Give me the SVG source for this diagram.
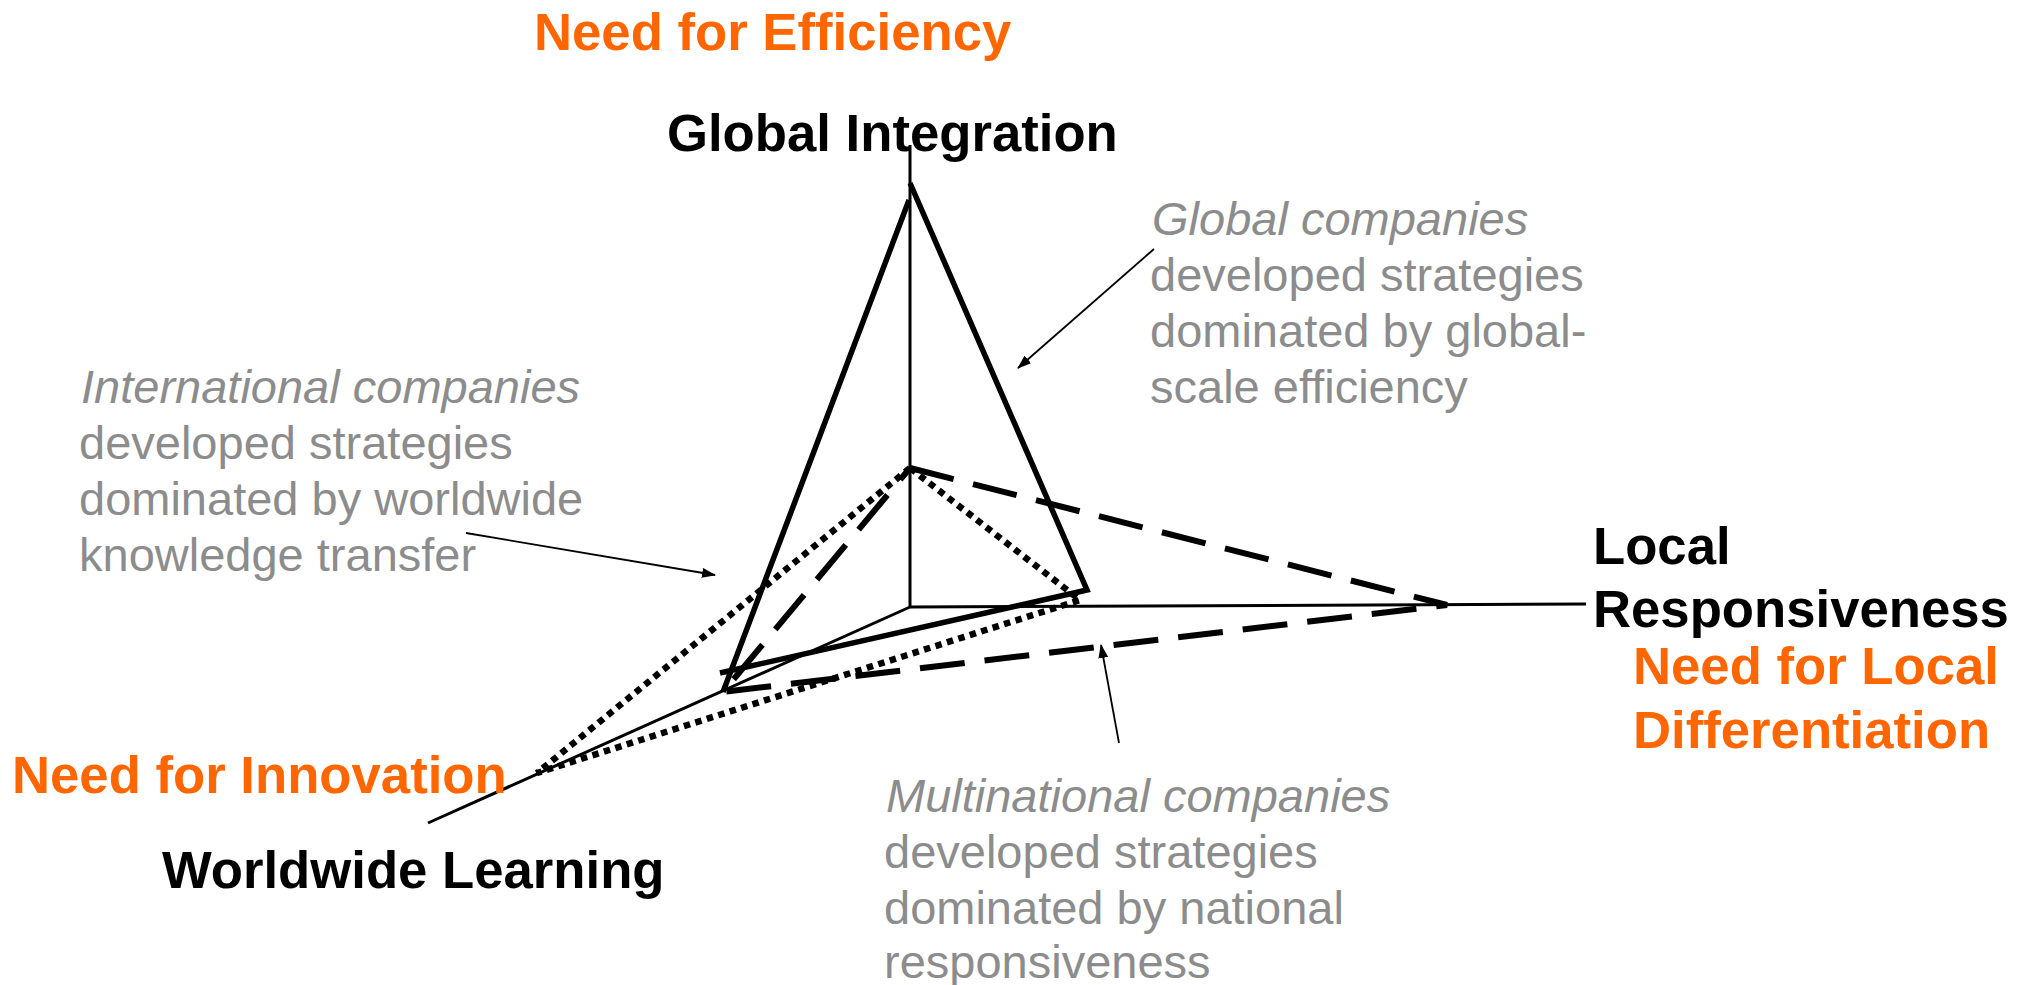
<svg xmlns="http://www.w3.org/2000/svg" width="2031" height="985" viewBox="0 0 2031 985">
<style>
.bold{font-family:"Liberation Sans",Arial,sans-serif;font-weight:bold;font-size:52.7px}
.orange{fill:#FF6600}
.black{fill:#000}
.gray{font-family:"Liberation Sans",Arial,sans-serif;font-size:47px;fill:#8C8C8C}
.it{font-style:italic}
.axis{stroke:#000;stroke-width:3;fill:none}
.solid{stroke:#000;stroke-width:5.5;fill:none}
.dash{stroke:#000;stroke-width:6;fill:none;stroke-dasharray:45 20}
.dot{stroke:#000;stroke-width:6.5;fill:none;stroke-dasharray:6.5 5.5}
.ptr{stroke:#000;stroke-width:1.8;fill:none;marker-end:url(#ah)}
</style>
<defs>
<marker id="ah" markerUnits="userSpaceOnUse" markerWidth="14" markerHeight="10" refX="13" refY="5" orient="auto">
<path d="M0,0 L14,5 L0,10 z" fill="#000"/>
</marker>
</defs>
<rect width="2031" height="985" fill="#fff"/>
<g id="connectors">
<g id="axes">
<line class="axis" x1="910" y1="145" x2="910" y2="607"/>
<line class="axis" x1="910" y1="607" x2="1586" y2="604"/>
<line class="axis" x1="910" y1="607" x2="428" y2="823"/>
</g>
<g id="global-triangle">
<path class="solid" d="M723,692 L909,200 M910,183 L1087,590 L720,673"/>
</g>
<g id="multinational-triangle">
<path class="dash" d="M910,468 L1447,605 L723,692 L910,468"/>
</g>
<g id="international-triangle">
<path class="dot" d="M910,468 L537,773 L1080,600 L910,468"/>
</g>
<g id="pointers">
<line class="ptr" x1="1154" y1="249" x2="1018" y2="368"/>
<line class="ptr" x1="466" y1="533" x2="715" y2="575"/>
<line class="ptr" x1="1119" y1="743" x2="1101" y2="645"/>
</g>
</g>
<g id="need-efficiency"><text class="bold orange" x="534" y="50">Need for Efficiency</text></g>
<g id="global-integration"><text class="bold black" x="667" y="151">Global Integration</text></g>
<g id="local-responsiveness"><text class="bold black" x="1593" y="564">Local</text><text class="bold black" x="1593" y="627">Responsiveness</text></g>
<g id="need-local"><text class="bold orange" x="1633" y="684">Need for Local</text><text class="bold orange" x="1633" y="748">Differentiation</text></g>
<g id="need-innovation"><text class="bold orange" x="12" y="793">Need for Innovation</text></g>
<g id="worldwide-learning"><text class="bold black" x="162" y="888">Worldwide Learning</text></g>
<g id="global-companies">
<text class="gray it" x="1152" y="235">Global companies</text>
<text class="gray" x="1150" y="291">developed strategies</text>
<text class="gray" x="1150" y="347">dominated by global-</text>
<text class="gray" x="1150" y="403">scale efficiency</text>
</g>
<g id="international-companies">
<text class="gray it" x="81" y="403">International companies</text>
<text class="gray" x="79" y="459">developed strategies</text>
<text class="gray" x="79" y="515">dominated by worldwide</text>
<text class="gray" x="79" y="571">knowledge transfer</text>
</g>
<g id="multinational-companies">
<text class="gray it" x="886" y="812">Multinational companies</text>
<text class="gray" x="884" y="868">developed strategies</text>
<text class="gray" x="884" y="924">dominated by national</text>
<text class="gray" x="884" y="978">responsiveness</text>
</g>
</svg>
